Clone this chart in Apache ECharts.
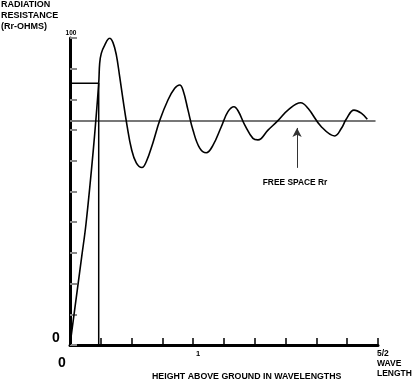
<!DOCTYPE html>
<html>
<head>
<meta charset="utf-8">
<script src="https://cdn.jsdelivr.net/npm/echarts@6/dist/echarts.min.js"></script>
<style>html,body{margin:0;padding:0;background:#fff;}#c{width:414px;height:383px;}</style>
</head>
<body>
<div id="c"></div>
<script>
const heightWl = [0, 0.059, 0.095, 0.130, 0.189, 0.233, 0.241, 0.254, 0.282, 0.322, 0.349, 0.376, 0.403, 0.430, 0.465, 0.498, 0.538, 0.584, 0.619, 0.674, 0.728, 0.795, 0.850, 0.890, 0.917, 0.958, 0.998, 1.053, 1.106, 1.161, 1.228, 1.282, 1.331, 1.364, 1.418, 1.485, 1.526, 1.607, 1.688, 1.769, 1.873, 1.932, 2.040, 2.149, 2.202, 2.243, 2.305, 2.364, 2.413];
const resistance = [0, 17.9, 28.8, 39.5, 63.5, 85.2, 91.8, 95.0, 97.7, 99.9, 98.5, 94.5, 87.5, 80.0, 71.0, 64.0, 59.3, 57.8, 59.7, 66.0, 73.1, 79.8, 83.6, 84.7, 83.1, 76.5, 70.0, 64.1, 62.6, 65.1, 71.1, 76.0, 77.6, 76.3, 71.7, 67.3, 66.8, 70.0, 73.1, 76.5, 78.9, 77.1, 71.1, 68.1, 70.5, 73.6, 76.5, 75.5, 73.5];
const freeSpaceR = 73;
const freeSpaceEnd = 2.48;
const quarterH = 0.233;
const quarterR = 85.3;
const arrowH = 1.843;
const arrowFrom = 57.7;
const arrowTo = 70.7;

const F = '"Liberation Sans", Arial, sans-serif';
const chart = echarts.init(document.getElementById('c'), null, {renderer: 'canvas'});
const txt = (x, y, text, size, align) => ({
  type: 'text', x: x, y: y,
  style: {text: text, font: 'bold ' + size + 'px ' + F, fill: '#000', textAlign: align || 'left', textVerticalAlign: 'middle'}
});
chart.setOption({
  animation: false,
  backgroundColor: '#fff',
  grid: {left: 70, right: 36, top: 38, bottom: 38},
  xAxis: {
    type: 'value', min: 0, max: 2.5, interval: 0.25,
    axisLine: {lineStyle: {color: '#000', width: 3}},
    axisTick: {inside: true, length: 7, lineStyle: {color: '#000', width: 1.5}},
    axisLabel: {show: false}, splitLine: {show: false}
  },
  yAxis: {
    type: 'value', min: 0, max: 100, interval: 10,
    axisLine: {lineStyle: {color: '#000', width: 3}},
    axisTick: {inside: true, length: 7, lineStyle: {color: '#888', width: 2}},
    axisLabel: {show: false}, splitLine: {show: false}
  },
  series: [
    {
      type: 'line', data: [[0, freeSpaceR], [freeSpaceEnd, freeSpaceR]],
      symbol: 'none', lineStyle: {color: '#777', width: 2}, z: 2,
      markLine: {
        silent: true, symbol: ['none', 'arrow'], symbolSize: [7, 9],
        label: {show: false},
        lineStyle: {color: '#333', width: 1, type: 'solid'},
        data: [[{coord: [arrowH, arrowFrom]}, {coord: [arrowH, arrowTo]}]]
      }
    },
    {
      type: 'line', data: [[0, quarterR], [quarterH, quarterR], [quarterH, 0]],
      symbol: 'none', lineStyle: {color: '#000', width: 1.5}, z: 3
    },
    {
      type: 'line', data: heightWl.map((h, i) => [h, resistance[i]]),
      symbol: 'none', smooth: 0.4, lineStyle: {color: '#000', width: 1.6}, z: 4
    }
  ],
  graphic: [
    txt(1, 5, 'RADIATION', 9),
    txt(1, 16, 'RESISTANCE', 9),
    txt(1, 27, '(Rr-OHMS)', 9),
    txt(71, 33, '100', 6.5, 'center'),
    txt(56, 338, '0', 14, 'center'),
    txt(62, 363, '0', 14, 'center'),
    txt(198, 354, '1', 7.5, 'center'),
    txt(377, 354, '5/2', 8.5),
    txt(377, 364, 'WAVE', 8.5),
    txt(377, 374, 'LENGTH', 8.5),
    txt(152, 377, 'HEIGHT ABOVE GROUND IN WAVELENGTHS', 8.8),
    txt(295, 183, 'FREE SPACE Rr', 8.4, 'center')
  ]
});
</script>
</body>
</html>
